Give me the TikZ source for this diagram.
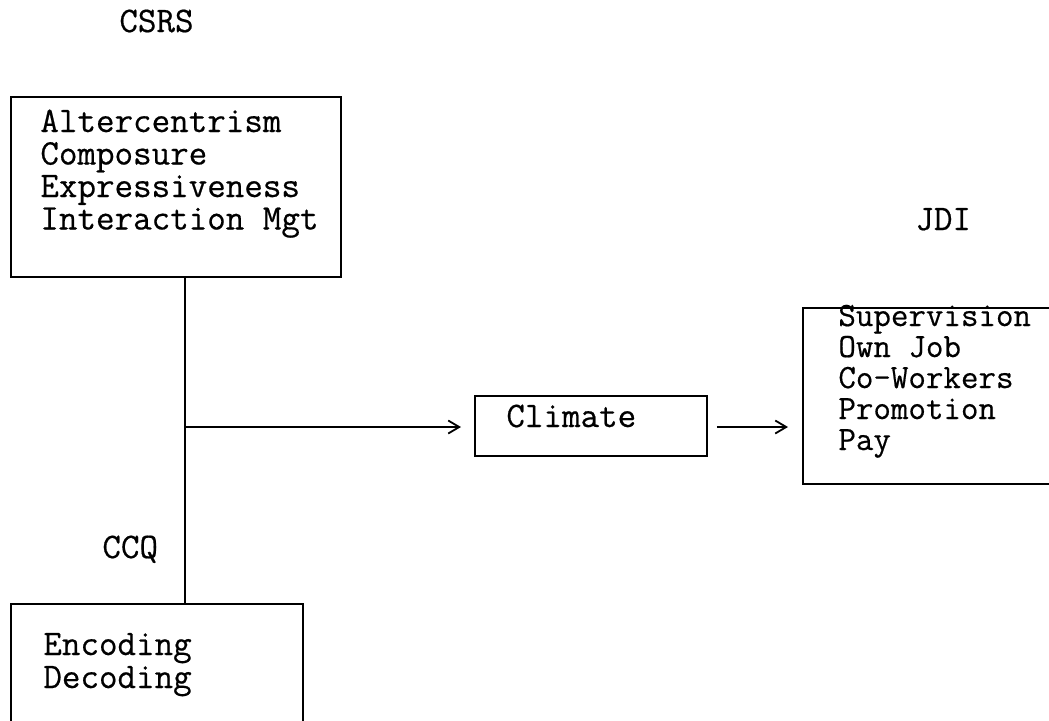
\documentclass[tikz,border=0pt]{standalone}
\usepackage{fontspec}
\newfontfamily\cour[FakeBold=0.5]{Latin Modern Mono}
\usetikzlibrary{arrows.meta}
\tikzset{
  box/.style={draw, line width=0.9pt, inner sep=0pt, anchor=north west},
  txt/.style={inner sep=0pt, anchor=base west, align=left},
  lbl/.style={inner sep=0pt, anchor=base west},
  link/.style={line width=0.9pt},
  arr/.style={line width=0.9pt, -{Straight Barb[length=5.5pt,width=6.5pt]}},
}
\begin{document}
\begin{tikzpicture}[x=0.5pt,y=-0.5pt,font=\cour\fontsize{18pt}{16.25pt}\selectfont]
\useasboundingbox (0,0) rectangle (1049,720);
% labels
\node[lbl] (csrs) at (119,32) {CSRS};
\node[lbl] (jdil) at (915,230) {JDI};
\node[lbl] (ccq) at (102,558) {CCQ};
% boxes
\node[box, minimum width=165pt, minimum height=90pt] (top) at (10,96) {};
\node[box, minimum width=116pt, minimum height=30pt] (clim) at (474,395) {};
\node[box, minimum width=129pt, minimum height=88pt] (jdi) at (802,307) {};
\node[box, minimum width=146pt, minimum height=70pt] (bot) at (10,603) {};
% texts (anchor = baseline of the last line)
\node[txt] (toptxt) at (40,229.5) {Altercentrism\\Composure\\Expressiveness\\Interaction Mgt};
\node[lbl] (climtxt) at (506,427) {Climate};
\node[txt, font=\cour\fontsize{17pt}{15.5pt}\selectfont] (jditxt) at (838,450) {Supervision\\Own Job\\Co-Workers\\Promotion\\Pay};
\node[txt, font=\cour\fontsize{18pt}{16.5pt}\selectfont] (bottxt) at (43,688) {Encoding\\Decoding};
% connectors
\coordinate (j) at (185,427);
\draw[link] (top.south -| j) -- (bot.north -| j);
\draw[arr, shorten >=6.5pt] (j) -- (clim.west |- j);
\draw[arr, shorten <=4.5pt, shorten >=7pt] (clim.east |- j) -- (jdi.west |- j);
\end{tikzpicture}
\end{document}
